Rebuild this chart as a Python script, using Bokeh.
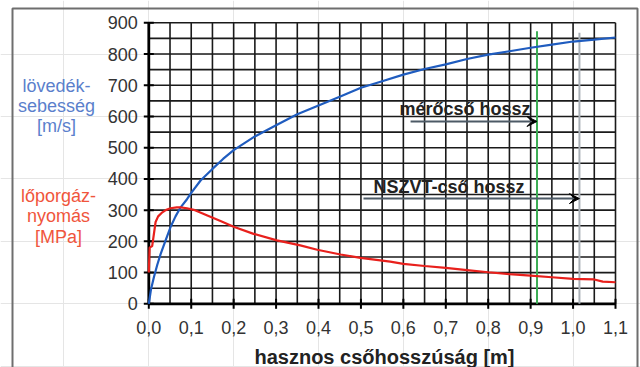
import math
from bokeh.plotting import figure
from bokeh.models import Range1d, Label, Arrow, VeeHead
from bokeh.embed import file_html
from bokeh.resources import INLINE

# ---- data ----
vel_x = [0, 0.005, 0.012, 0.02, 0.028, 0.04, 0.051, 0.063, 0.075, 0.09, 0.1, 0.122,
         0.15, 0.175, 0.2, 0.25, 0.3, 0.35, 0.4, 0.45, 0.5, 0.55, 0.6, 0.65, 0.7,
         0.75, 0.8, 0.85, 0.9, 0.95, 1.0, 1.05, 1.1]
vel_y = [0, 45, 85, 125, 160, 205, 245, 280, 309, 335, 355, 395,
         432, 464, 492, 536, 572, 607, 635, 663, 692, 713, 734, 752, 767,
         784, 798, 809, 820, 830, 840, 846, 853]

pres_x = [0, 0.002, 0.008, 0.016, 0.022, 0.032, 0.04, 0.051, 0.066, 0.075, 0.09, 0.106,
          0.138, 0.169, 0.2, 0.247, 0.302, 0.357, 0.397, 0.452, 0.499, 0.569, 0.6,
          0.65, 0.7, 0.75, 0.8, 0.85, 0.9, 0.95, 1.0, 1.05, 1.07, 1.1]
pres_y = [100, 180, 185, 262, 280, 293, 300, 306, 309, 309, 306, 301,
          283, 265, 247, 224, 203, 187, 173, 158, 147, 135, 128,
          121, 115, 108, 101, 95, 90, 85, 80, 78, 71, 69]

x_ticks = [0.0, 0.1, 0.2, 0.3, 0.4, 0.5, 0.6, 0.7, 0.8, 0.9, 1.0, 1.1]
x_tick_labels = ["0,0", "0,1", "0,2", "0,3", "0,4", "0,5", "0,6", "0,7", "0,8", "0,9", "1,0", "1,1"]
x_minor = [0.05, 0.15, 0.25, 0.35, 0.45, 0.55, 0.65, 0.75, 0.85, 0.95, 1.05]
y_ticks = [0, 100, 200, 300, 400, 500, 600, 700, 800, 900]
y_tick_labels = ["0", "100", "200", "300", "400", "500", "600", "700", "800", "900"]
y_minor = [50, 150, 250, 350, 450, 550, 650, 750, 850]

meroc_len = 0.915
nszvt_len = 1.015
meroc_arrow = (0.617, 584)
nszvt_arrow = (0.506, 337)

# ---- layout (pixel geometry of the canvas) ----
W, H = 640, 367
PX_LEFT, PX_RIGHT = 148.3, 615.0      # x = 0 and x = 1.1
PX_TOP, PX_BOTTOM = 22.3, 303.3       # y = 900 and y = 0
XMIN, XMAX = x_ticks[0], x_ticks[-1]
YMIN, YMAX = y_ticks[0], y_ticks[-1]
sx = (PX_RIGHT - PX_LEFT) / (XMAX - XMIN)
sy = (PX_BOTTOM - PX_TOP) / (YMAX - YMIN)

def dx(px):
    return XMIN + (px - PX_LEFT) / sx

def dy(py):
    return YMIN + (PX_BOTTOM - py) / sy

p = figure(width=W, height=H, output_backend="svg", toolbar_location=None,
           x_axis_location=None, y_axis_location=None,
           x_range=Range1d(dx(0), dx(W)), y_range=Range1d(dy(H), dy(0)),
           min_border=0)
p.outline_line_color = None
p.background_fill_color = "white"
p.border_fill_color = "white"

FONT = "Liberation Sans"
GRID = "#1a1a1a"

# outer frame (left, top, right edges)
p.line(x=[dx(12), dx(12), dx(637), dx(637)], y=[dy(H + 10), dy(8), dy(8), dy(H + 10)],
       line_color="#6e6e6e", line_width=2)

# grid
vx = sorted(x_ticks + x_minor)
hy = sorted(y_ticks + y_minor)
p.segment(x0=vx, y0=[YMIN] * len(vx), x1=vx, y1=[YMAX] * len(vx),
          line_color=GRID, line_width=1.6)
p.segment(x0=[XMIN] * len(hy), y0=hy, x1=[XMAX] * len(hy), y1=hy,
          line_color=GRID, line_width=1.6)

# axes lines
p.segment(x0=[XMIN], y0=[YMIN], x1=[XMIN], y1=[YMAX], line_color="black", line_width=2.8)
p.segment(x0=[XMIN], y0=[YMIN], x1=[XMAX], y1=[YMIN], line_color="black", line_width=2.8)
# ticks
p.scatter(x=[XMIN] * len(y_ticks), y=y_ticks, marker="dash", size=10,
          line_color="black", line_width=2)
p.scatter(x=x_ticks, y=[YMIN] * len(x_ticks), marker="dash", size=10, angle=math.pi / 2,
          line_color="black", line_width=2)

# tick labels
p.text(x=[dx(PX_LEFT - 11)] * len(y_ticks), y=y_ticks, text=y_tick_labels,
       text_font={"value": FONT}, text_font_size="18px", text_color="#333333",
       text_align="right", text_baseline="middle")
p.text(x=x_ticks, y=[dy(PX_BOTTOM + 24)] * len(x_ticks), text=x_tick_labels,
       text_font={"value": FONT}, text_font_size="18px", text_color="#333333",
       text_align="center", text_baseline="middle")

# tube length markers
p.segment(x0=[meroc_len], y0=[YMIN], x1=[meroc_len], y1=[873], line_color="#3cae55", line_width=2)
p.segment(x0=[nszvt_len], y0=[YMIN], x1=[nszvt_len], y1=[868], line_color="#aab1b8", line_width=2)

# curves
p.line(vel_x, vel_y, line_color="#1f5cbf", line_width=2.2)
p.line(pres_x, pres_y, line_color="#e8201c", line_width=2.2)

# arrows
p.add_layout(Arrow(x_start=meroc_arrow[0], y_start=meroc_arrow[1], x_end=meroc_len, y_end=meroc_arrow[1],
                   line_color="#4d5a66", line_width=2,
                   end=VeeHead(size=10, fill_color="black", line_color="black")))
p.add_layout(Arrow(x_start=nszvt_arrow[0], y_start=nszvt_arrow[1], x_end=nszvt_len, y_end=nszvt_arrow[1],
                   line_color="#4d5a66", line_width=2,
                   end=VeeHead(size=10, fill_color="black", line_color="black")))

def label(px, py, txt, size, color, bold=False, align="left"):
    p.add_layout(Label(x=dx(px), y=dy(py), text=txt, text_font=FONT,
                       text_font_style="bold" if bold else "normal",
                       text_font_size=size, text_color=color,
                       text_align=align, text_baseline="middle"))

label(399, 108, "mérőcső hossz", "18px", "#222222", bold=True)
label(373, 186, "NSZVT-cső hossz", "18px", "#222222", bold=True)

# left-side series titles
for txt, py in zip(["lövedék-", "sebesség", "[m/s]"], [85, 105, 125]):
    label(56, py, txt, "18px", "#5b7fcc", align="center")
for txt, py in zip(["lőporgáz-", "nyomás", "[MPa]"], [195, 215, 236]):
    label(58, py, txt, "18px", "#f0553c", align="center")

# x-axis title
label(384, 356, "hasznos csőhosszúság [m]", "20px", "#222222", bold=True, align="center")

open("out.html", "w").write(file_html(p, INLINE))
